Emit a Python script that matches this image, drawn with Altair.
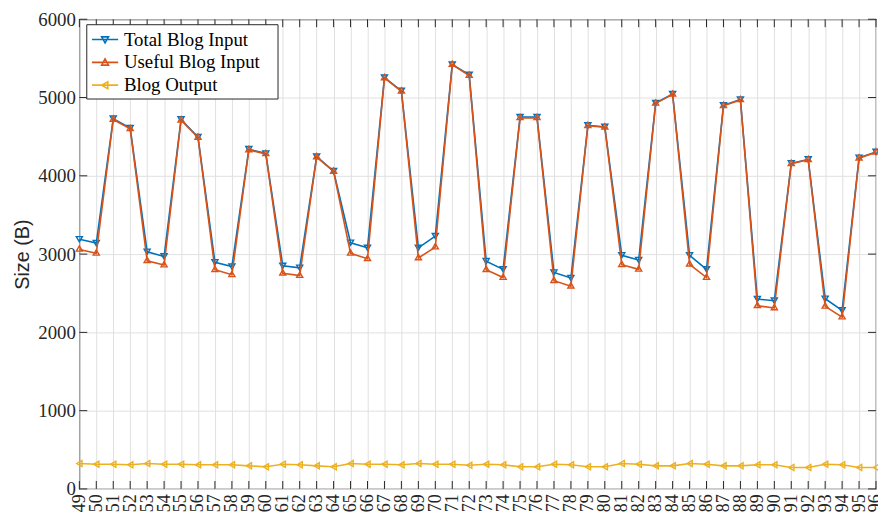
import altair as alt
import pandas as pd

runs = [49, 50, 51, 52, 53, 54, 55, 56, 57, 58, 59, 60, 61, 62, 63, 64,
        65, 66, 67, 68, 69, 70, 71, 72, 73, 74, 75, 76, 77, 78, 79, 80,
        81, 82, 83, 84, 85, 86, 87, 88, 89, 90, 91, 92, 93, 94, 95, 96]

total_input = [3190, 3140, 4730, 4610, 3030, 2970, 4720, 4495, 2895, 2840, 4340, 4285,
               2850, 2825, 4245, 4060, 3145, 3080, 5255, 5085, 3080, 3230, 5420, 5290,
               2910, 2805, 4750, 4750, 2765, 2695, 4645, 4625, 2985, 2925, 4930, 5045,
               2985, 2805, 4900, 4975, 2425, 2405, 4160, 4210, 2430, 2280, 4230, 4305]

useful_input = [3060, 3010, 4720, 4600, 2915, 2860, 4710, 4490, 2800, 2735, 4330, 4280,
                2755, 2725, 4240, 4055, 3010, 2940, 5250, 5080, 2950, 3090, 5420, 5280,
                2800, 2700, 4740, 4740, 2660, 2590, 4640, 4620, 2865, 2805, 4925, 5040,
                2870, 2700, 4895, 4970, 2340, 2312, 4155, 4205, 2332, 2195, 4225, 4300]

blog_output = [325, 316, 316, 308, 325, 316, 316, 308, 308, 308, 295, 283,
               316, 308, 295, 283, 325, 316, 316, 308, 325, 316, 316, 302,
               316, 308, 283, 283, 316, 308, 283, 283, 325, 316, 295, 295,
               325, 316, 295, 295, 308, 308, 274, 274, 316, 308, 274, 274]

series_names = ["Total Blog Input", "Useful Blog Input", "Blog Output"]
series_colors = ["#0072BD", "#D95319", "#EDB120"]
series_shapes = ["triangle-down", "triangle", "triangle-left"]
legend_paths = [
    "M-0.85,0L1.45,0M0,-0.24L0.6,-0.24L0.3,0.3Z",
    "M-0.85,0L1.45,0M0,0.24L0.6,0.24L0.3,-0.3Z",
    "M-0.85,0L1.45,0M0.54,-0.3L0.54,0.3L0,0Z",
]
y_ticks = [0, 1000, 2000, 3000, 4000, 5000, 6000]

W, H = 804, 474
SERIF = "Liberation Serif"
INK = "#262626"

frames = []
for name, vals in zip(series_names, [total_input, useful_input, blog_output]):
    frames.append(pd.DataFrame({"run": runs, "size": vals, "series": name}))
df = pd.concat(frames, ignore_index=True)
xt = pd.DataFrame({"run": runs})
yt = pd.DataFrame({"size": y_ticks})

x_enc = alt.X("run:Q", scale=alt.Scale(domain=[49, 96], nice=False, zero=False),
              axis=alt.Axis(values=runs, format="d", labelAngle=270, title=None,
                            grid=True, ticks=False, tickSize=0, domain=False,
                            labelPadding=5, labelFont=SERIF, labelFontSize=18,
                            labelColor=INK, labelOverlap=False, gridColor="#e0e0e0",
                            labelBound=False, labelFlush=False))
y_enc = alt.Y("size:Q", scale=alt.Scale(domain=[0, 6000], nice=False),
              axis=alt.Axis(values=y_ticks, format="d", title="Size (B)", grid=True,
                            ticks=False, tickSize=0, domain=False, labelPadding=4,
                            labelFont=SERIF, labelFontSize=19, labelColor=INK,
                            titleFont="Liberation Sans", titleFontSize=20,
                            titleFontWeight="normal", titleColor=INK, titlePadding=5,
                            gridColor="#e0e0e0", labelFlush=False))

layers = []
for name, col, shp in zip(series_names, series_colors, series_shapes):
    d = df[df["series"] == name]
    base = alt.Chart(d).encode(x=x_enc, y=y_enc)
    layers.append(base.mark_line(color=col, strokeWidth=1.6))
    layers.append(base.mark_point(color=col, shape=shp, filled=False, size=38,
                                  strokeWidth=1.4, opacity=1))

legend = alt.Legend(title=None, orient="none", legendX=7, legendY=5,
                    strokeColor=INK, fillColor="white", padding=3, rowPadding=0,
                    symbolSize=529, symbolStrokeWidth=1.6, labelFont=SERIF,
                    labelFontSize=19, labelColor="black", labelOffset=10,
                    labelExpr="datum.label + '\u2800'", cornerRadius=0)
legend_layer = alt.Chart(df).transform_filter("false").mark_point(
    filled=False, strokeWidth=1.6, opacity=1).encode(
    x=x_enc, y=y_enc,
    color=alt.Color("series:N", scale=alt.Scale(domain=series_names, range=series_colors),
                    legend=legend),
    shape=alt.Shape("series:N", scale=alt.Scale(domain=series_names, range=legend_paths),
                    legend=legend),
)
layers.append(legend_layer)

tick_len = 8
layers.append(alt.Chart(xt).mark_rule(color=INK, strokeWidth=1).encode(
    x=x_enc, y=alt.value(H), y2=alt.value(H - tick_len)))
layers.append(alt.Chart(xt).mark_rule(color=INK, strokeWidth=1).encode(
    x=x_enc, y=alt.value(0), y2=alt.value(tick_len)))
layers.append(alt.Chart(yt).mark_rule(color=INK, strokeWidth=1).encode(
    y=y_enc, x=alt.value(0), x2=alt.value(tick_len)))
layers.append(alt.Chart(yt).mark_rule(color=INK, strokeWidth=1).encode(
    y=y_enc, x=alt.value(W), x2=alt.value(W - tick_len)))

chart = alt.layer(*layers).properties(
    width=W, height=H,
    autosize=alt.AutoSizeParams(type="none"),
    padding={"left": 72, "top": 9, "right": 2, "bottom": 31},
    background="white",
).configure_view(stroke=INK, strokeWidth=1.2)

chart.save("out.html", embed_options={"renderer": "svg", "actions": False})
